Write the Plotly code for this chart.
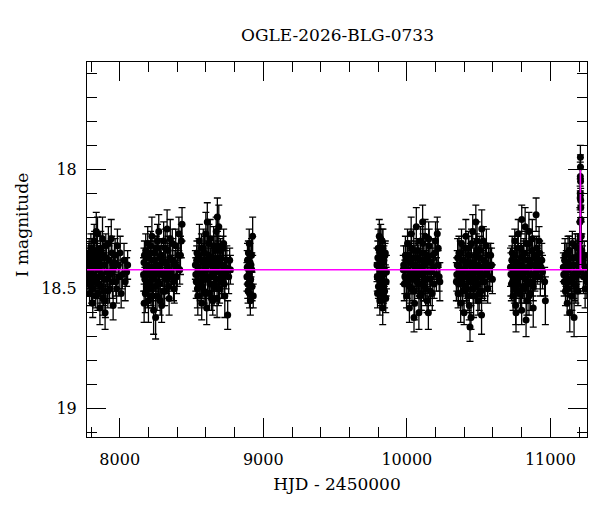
import plotly.graph_objects as go

# ---- photometry (HJD - 2450000, I magnitude, error) ----
hjd = [
    # season 1
    7779, 7785, 7790, 7794, 7799, 7803, 7808, 7812, 7817, 7822, 7828, 7833, 7839, 7845, 7850, 7856, 7862, 7868, 7874,
    7880, 7887, 7893, 7900, 7907, 7914, 7921, 7929, 7937, 7945, 7954, 7963, 7973, 7984, 7996, 8010, 8030, 8048,
    7781, 7787, 7792, 7797, 7801, 7806, 7810, 7815, 7820, 7825, 7830, 7836, 7842, 7847, 7853, 7859, 7865, 7871, 7877,
    7883, 7890, 7896, 7903, 7910, 7917, 7925, 7933, 7941, 7949, 7958, 7968, 7978, 7990, 8003, 8018, 8038, 8055, 7776,
    7836.5, 7898,
    # season 2
    8166, 8172, 8178, 8183, 8189, 8195, 8200, 8206, 8212, 8218, 8224, 8230, 8236, 8242, 8248, 8254, 8260, 8266, 8272,
    8279, 8285, 8292, 8299, 8306, 8313, 8320, 8328, 8336, 8344, 8352, 8361, 8370, 8380, 8390, 8401, 8412, 8423, 8434,
    8169, 8175, 8181, 8186, 8192, 8198, 8203, 8209, 8215, 8221, 8227, 8233, 8239, 8245, 8251, 8257, 8263, 8269, 8276,
    8282, 8289, 8296, 8303, 8310, 8317, 8324, 8332, 8340, 8348, 8357, 8366, 8375, 8385, 8396, 8407, 8418, 8429, 8170,
    8250, 8330,
    # season 3
    8527, 8533, 8538, 8544, 8549, 8555, 8560, 8566, 8571, 8577, 8582, 8588, 8594, 8600, 8606, 8612, 8618, 8624, 8630,
    8636, 8642, 8648, 8654, 8660, 8666, 8672, 8678, 8684, 8690, 8696, 8702, 8709, 8716, 8724, 8732, 8741, 8752, 8766,
    8530, 8536, 8541, 8547, 8552, 8558, 8563, 8569, 8574, 8580, 8585, 8591, 8597, 8603, 8609, 8615, 8621, 8627, 8633,
    8639, 8645, 8651, 8657, 8663, 8669, 8675, 8681, 8687, 8693, 8699, 8706, 8713, 8720, 8728, 8736, 8746, 8759, 8771,
    8610, 8680,
    # season 4
    8886, 8890, 8894, 8898, 8902, 8906, 8910, 8914, 8918, 8922, 8926, 8930,
    8888, 8892, 8896, 8900, 8904, 8908, 8912, 8920,
    # season 5
    9792, 9796, 9800, 9804, 9808, 9812, 9816, 9820, 9824, 9828, 9832, 9836, 9840, 9845, 9850, 9856,
    9794, 9798, 9802, 9806, 9810, 9814, 9818, 9822, 9826, 9830, 9834, 9838, 9843, 9848, 9853, 9858,
    # season 6
    9975, 9982, 9990, 9998, 10005, 10012, 10018, 10024, 10030, 10036, 10042, 10048, 10054, 10060, 10066, 10072, 10078,
    10084, 10090, 10096, 10102, 10108, 10114, 10120, 10127, 10134, 10141, 10148, 10156, 10164, 10172, 10181, 10190,
    10200, 10212, 10225,
    9978, 9986, 9994, 10002, 10008, 10015, 10021, 10027, 10033, 10039, 10045, 10051, 10057, 10063, 10069, 10075, 10081,
    10087, 10093, 10099, 10105, 10111, 10117, 10124, 10131, 10138, 10145, 10152, 10160, 10168, 10177, 10186, 10195,
    10206, 10218, 10230, 10050, 10110, 10150, 10218.5,
    # season 7
    10345, 10351, 10357, 10363, 10369, 10375, 10381, 10387, 10393, 10399, 10405, 10411, 10417, 10423, 10429, 10435,
    10441, 10447, 10453, 10459, 10465, 10471, 10477, 10483, 10489, 10495, 10501, 10508, 10515, 10522, 10529, 10537,
    10545, 10554, 10563, 10573, 10584, 10596,
    10348, 10354, 10360, 10366, 10372, 10378, 10384, 10390, 10396, 10402, 10408, 10414, 10420, 10426, 10432, 10438,
    10444, 10450, 10456, 10462, 10468, 10474, 10480, 10486, 10492, 10498, 10504, 10511, 10518, 10525, 10533, 10541,
    10549, 10558, 10568, 10578, 10590, 10440, 10480.5, 10520.5,
    # season 8
    10722, 10728, 10734, 10740, 10746, 10752, 10758, 10764, 10770, 10776, 10782, 10788, 10794, 10800, 10806, 10812,
    10818, 10824, 10830, 10836, 10842, 10848, 10854, 10860, 10867, 10874, 10881, 10888, 10896, 10904, 10912, 10921,
    10930, 10940, 10960, 10965,
    10725, 10731, 10737, 10743, 10749, 10755, 10761, 10767, 10773, 10779, 10785, 10791, 10797, 10803, 10809, 10815,
    10821, 10827, 10833, 10839, 10845, 10851, 10857, 10864, 10871, 10878, 10885, 10892, 10900, 10908, 10916, 10925,
    10935, 10945, 10800.5, 10850.5, 10900.5, 10760.5, 10830.5, 10880.5,
    # season 9 (with the event)
    11093, 11099, 11105, 11111, 11117, 11123, 11129, 11135, 11141, 11147, 11153, 11159, 11165, 11171, 11177, 11183,
    11189, 11195, 11200, 11204, 11206, 11207.5, 11208.5, 11209, 11209.5, 11210, 11211, 11212.5, 11215, 11219, 11224,
    11230, 11236, 11242, 11248, 11254,
    11090, 11096, 11102, 11108, 11114, 11120, 11126, 11132, 11138, 11144, 11150, 11156, 11162, 11168, 11174, 11180,
    11186, 11192, 11198, 11202, 11208, 11211.5, 11227, 11245,
]

imag = [
    18.47, 18.38, 18.52, 18.41, 18.33, 18.49, 18.44, 18.56, 18.36, 18.30, 18.45, 18.53, 18.39, 18.27, 18.48, 18.42,
    18.58, 18.34, 18.44, 18.29, 18.51, 18.40, 18.55, 18.37, 18.46, 18.31, 18.50, 18.43, 18.35, 18.57, 18.39, 18.47,
    18.32, 18.45, 18.52, 18.38, 18.43,
    18.43, 18.35, 18.48, 18.39, 18.45, 18.37, 18.50, 18.41, 18.46, 18.34, 18.40, 18.47, 18.36, 18.52, 18.38, 18.45,
    18.33, 18.49, 18.40, 18.54, 18.36, 18.46, 18.32, 18.43, 18.51, 18.38, 18.44, 18.29, 18.47, 18.41, 18.36, 18.50,
    18.40, 18.35, 18.44, 18.47, 18.40, 18.42, 18.26, 18.60,
    18.44, 18.36, 18.52, 18.40, 18.47, 18.31, 18.55, 18.42, 18.35, 18.50, 18.28, 18.46, 18.59, 18.38, 18.44, 18.33,
    18.53, 18.41, 18.26, 18.48, 18.37, 18.57, 18.43, 18.30, 18.51, 18.39, 18.46, 18.34, 18.54, 18.29, 18.45, 18.38,
    18.50, 18.32, 18.41, 18.27, 18.36, 18.23,
    18.39, 18.46, 18.34, 18.43, 18.50, 18.37, 18.44, 18.48, 18.32, 18.41, 18.53, 18.38, 18.45, 18.35, 18.49, 18.42,
    18.30, 18.47, 18.40, 18.55, 18.36, 18.44, 18.51, 18.39, 18.33, 18.46, 18.41, 18.49, 18.37, 18.43, 18.31, 18.47,
    18.40, 18.45, 18.36, 18.42, 18.30, 18.56, 18.62, 18.25,
    18.40, 18.47, 18.35, 18.53, 18.43, 18.30, 18.49, 18.38, 18.56, 18.44, 18.33, 18.51, 18.41, 18.27, 18.58, 18.46,
    18.36, 18.52, 18.29, 18.45, 18.39, 18.55, 18.32, 18.48, 18.42, 18.26, 18.54, 18.37, 18.24, 18.50, 18.34, 18.47,
    18.40, 18.31, 18.53, 18.43, 18.61, 18.38,
    18.44, 18.38, 18.50, 18.41, 18.36, 18.47, 18.43, 18.33, 18.49, 18.39, 18.46, 18.35, 18.52, 18.42, 18.38, 18.45,
    18.31, 18.48, 18.40, 18.54, 18.37, 18.44, 18.49, 18.34, 18.41, 18.46, 18.32, 18.50, 18.39, 18.43, 18.37, 18.45,
    18.33, 18.48, 18.41, 18.38, 18.45, 18.42, 18.22, 18.20,
    18.45, 18.38, 18.51, 18.42, 18.31, 18.47, 18.55, 18.40, 18.36, 18.49, 18.28, 18.53,
    18.41, 18.48, 18.35, 18.44, 18.52, 18.39, 18.46, 18.42,
    18.40, 18.52, 18.33, 18.46, 18.28, 18.55, 18.42, 18.36, 18.49, 18.30, 18.58, 18.44, 18.38, 18.51, 18.35, 18.47,
    18.45, 18.37, 18.49, 18.41, 18.34, 18.47, 18.29, 18.52, 18.39, 18.44, 18.33, 18.50, 18.42, 18.36, 18.54, 18.43,
    18.42, 18.48, 18.36, 18.53, 18.31, 18.45, 18.58, 18.39, 18.27, 18.50, 18.43, 18.34, 18.56, 18.40, 18.24, 18.47,
    18.37, 18.60, 18.44, 18.30, 18.52, 18.41, 18.35, 18.49, 18.28, 18.46, 18.55, 18.38, 18.32, 18.51, 18.43, 18.36,
    18.48, 18.30, 18.27, 18.45,
    18.40, 18.45, 18.38, 18.47, 18.42, 18.36, 18.49, 18.44, 18.33, 18.46, 18.40, 18.51, 18.37, 18.45, 18.42, 18.34,
    18.48, 18.41, 18.53, 18.38, 18.44, 18.31, 18.47, 18.40, 18.50, 18.36, 18.43, 18.29, 18.46, 18.39, 18.52, 18.41,
    18.35, 18.44, 18.40, 18.47, 18.62, 18.22, 18.60, 18.33,
    18.47, 18.40, 18.52, 18.35, 18.44, 18.56, 18.31, 18.48, 18.38, 18.60, 18.42, 18.28, 18.50, 18.45, 18.33, 18.57,
    18.39, 18.62, 18.46, 18.26, 18.53, 18.41, 18.36, 18.49, 18.30, 18.55, 18.43, 18.34, 18.51, 18.25, 18.47, 18.38,
    18.44, 18.32, 18.50, 18.41, 18.36, 18.46,
    18.44, 18.37, 18.48, 18.41, 18.35, 18.46, 18.42, 18.51, 18.38, 18.45, 18.33, 18.49, 18.40, 18.53, 18.36, 18.43,
    18.47, 18.31, 18.44, 18.50, 18.39, 18.46, 18.42, 18.34, 18.48, 18.40, 18.52, 18.37, 18.45, 18.41, 18.30, 18.47,
    18.39, 18.43, 18.36, 18.45, 18.40, 18.66, 18.22, 18.61,
    18.41, 18.48, 18.35, 18.53, 18.44, 18.30, 18.57, 18.39, 18.46, 18.27, 18.51, 18.42, 18.33, 18.59, 18.45, 18.37,
    18.50, 18.24, 18.43, 18.55, 18.38, 18.47, 18.31, 18.52, 18.40, 18.29, 18.49, 18.36, 18.44, 18.33, 18.40, 18.30,
    18.45, 18.38, 18.47, 18.55,
    18.44, 18.38, 18.47, 18.41, 18.50, 18.36, 18.43, 18.48, 18.33, 18.45, 18.40, 18.52, 18.37, 18.44, 18.49, 18.35,
    18.42, 18.46, 18.31, 18.48, 18.41, 18.53, 18.38, 18.44, 18.34, 18.47, 18.40, 18.45, 18.37, 18.42, 18.39, 18.35,
    18.41, 18.43, 18.21, 18.26, 18.19, 18.60, 18.63, 18.58,
    18.44, 18.38, 18.51, 18.42, 18.56, 18.35, 18.47, 18.60, 18.40, 18.53, 18.31, 18.45, 18.62, 18.37, 18.49, 18.43,
    18.33, 18.40, 18.36, 18.30, 18.22, 18.12, 18.03, 17.95, 17.99, 18.05, 18.13, 18.21, 18.28, 18.34, 18.38,
    18.45, 18.36, 18.50, 18.41, 18.47,
    18.41, 18.47, 18.36, 18.44, 18.39, 18.50, 18.42, 18.34, 18.46, 18.40, 18.53, 18.37, 18.44, 18.48, 18.32, 18.45,
    18.40, 18.51, 18.43, 18.38, 18.10, 18.16, 18.40, 18.44,
]

ierr = [
    0.06, 0.07, 0.05, 0.08, 0.06, 0.07, 0.05, 0.06, 0.09, 0.07, 0.06, 0.05, 0.08, 0.07, 0.06, 0.05, 0.07, 0.08, 0.06,
    0.09, 0.06, 0.05, 0.07, 0.06, 0.08, 0.07, 0.06, 0.05, 0.07, 0.06, 0.08, 0.06, 0.07, 0.05, 0.06, 0.07, 0.06,
    0.07, 0.06, 0.05, 0.07, 0.08, 0.06, 0.05, 0.07, 0.06, 0.08, 0.07, 0.05, 0.06, 0.07, 0.06, 0.08, 0.05, 0.07, 0.06,
    0.07, 0.06, 0.08, 0.05, 0.06, 0.07, 0.06, 0.05, 0.08, 0.07, 0.06, 0.07, 0.06, 0.05, 0.07, 0.06, 0.08, 0.06, 0.07,
    0.08, 0.07,
    0.07, 0.06, 0.08, 0.05, 0.06, 0.07, 0.09, 0.06, 0.05, 0.07, 0.08, 0.06, 0.10, 0.06, 0.07, 0.05, 0.06, 0.08, 0.07,
    0.06, 0.05, 0.07, 0.06, 0.08, 0.06, 0.07, 0.05, 0.06, 0.07, 0.08, 0.06, 0.09, 0.06, 0.07, 0.08, 0.07, 0.08, 0.07,
    0.06, 0.05, 0.07, 0.06, 0.08, 0.06, 0.05, 0.07, 0.06, 0.07, 0.05, 0.08, 0.06, 0.07, 0.06, 0.05, 0.07, 0.06, 0.08,
    0.06, 0.07, 0.05, 0.06, 0.07, 0.08, 0.06, 0.07, 0.05, 0.06, 0.07, 0.06, 0.08, 0.06, 0.07, 0.05, 0.06, 0.07, 0.08,
    0.09, 0.08,
    0.06, 0.07, 0.05, 0.08, 0.06, 0.07, 0.06, 0.05, 0.07, 0.06, 0.08, 0.05, 0.06, 0.09, 0.07, 0.06, 0.05, 0.07, 0.08,
    0.06, 0.07, 0.06, 0.08, 0.05, 0.07, 0.06, 0.08, 0.07, 0.09, 0.06, 0.05, 0.07, 0.08, 0.06, 0.09, 0.07, 0.06, 0.05,
    0.07, 0.06, 0.08, 0.05, 0.07, 0.06, 0.07, 0.06, 0.05, 0.08, 0.06, 0.07, 0.06, 0.05, 0.07, 0.06, 0.08, 0.06, 0.07,
    0.05, 0.06, 0.07, 0.08, 0.06, 0.07, 0.05, 0.06, 0.07, 0.06, 0.08, 0.06, 0.07, 0.05, 0.06, 0.07, 0.06, 0.07, 0.06,
    0.08, 0.08,
    0.06, 0.07, 0.05, 0.08, 0.06, 0.07, 0.06, 0.05, 0.07, 0.06, 0.08, 0.05,
    0.07, 0.06, 0.05, 0.07, 0.06, 0.08, 0.06, 0.07,
    0.07, 0.06, 0.08, 0.05, 0.07, 0.06, 0.08, 0.07, 0.06, 0.05, 0.07, 0.08, 0.06, 0.07, 0.05, 0.06,
    0.06, 0.07, 0.05, 0.08, 0.06, 0.07, 0.06, 0.05, 0.07, 0.06, 0.08, 0.06, 0.07, 0.05, 0.06, 0.07,
    0.06, 0.07, 0.08, 0.05, 0.06, 0.07, 0.06, 0.08, 0.07, 0.05, 0.06, 0.09, 0.07, 0.06, 0.08, 0.05, 0.06, 0.07, 0.09,
    0.06, 0.07, 0.05, 0.08, 0.06, 0.07, 0.06, 0.05, 0.08, 0.07, 0.06, 0.05, 0.07, 0.06, 0.08, 0.07, 0.06, 0.08, 0.07,
    0.06, 0.07, 0.05, 0.06, 0.07, 0.08, 0.06, 0.05, 0.07, 0.06, 0.07, 0.06, 0.08, 0.05, 0.06, 0.07, 0.06, 0.05, 0.07,
    0.06, 0.08, 0.06, 0.07, 0.05, 0.06, 0.07, 0.08, 0.06, 0.07, 0.05, 0.06, 0.07, 0.06, 0.08, 0.06, 0.07, 0.07, 0.08,
    0.08, 0.06,
    0.06, 0.07, 0.05, 0.08, 0.06, 0.07, 0.06, 0.05, 0.08, 0.07, 0.06, 0.09, 0.07, 0.06, 0.08, 0.05, 0.06, 0.07, 0.09,
    0.06, 0.07, 0.05, 0.08, 0.06, 0.07, 0.06, 0.05, 0.08, 0.07, 0.06, 0.09, 0.07, 0.06, 0.08, 0.05, 0.06, 0.07, 0.08,
    0.07, 0.06, 0.05, 0.07, 0.06, 0.08, 0.06, 0.07, 0.05, 0.06, 0.07, 0.06, 0.08, 0.05, 0.07, 0.06, 0.07, 0.06, 0.08,
    0.06, 0.05, 0.07, 0.06, 0.08, 0.07, 0.06, 0.05, 0.07, 0.06, 0.08, 0.06, 0.07, 0.05, 0.06, 0.07, 0.06, 0.07, 0.08,
    0.08, 0.07,
    0.07, 0.06, 0.07, 0.05, 0.08, 0.06, 0.07, 0.06, 0.05, 0.08, 0.07, 0.06, 0.09, 0.07, 0.06, 0.08, 0.05, 0.06, 0.07,
    0.09, 0.06, 0.07, 0.05, 0.08, 0.06, 0.07, 0.06, 0.05, 0.07, 0.06, 0.08, 0.07, 0.06, 0.10, 0.09,
    0.06, 0.07, 0.05, 0.06, 0.07, 0.08, 0.06, 0.05, 0.07, 0.06, 0.07, 0.06, 0.08, 0.05, 0.06, 0.07, 0.06, 0.05, 0.07,
    0.06, 0.08, 0.06, 0.07, 0.05, 0.06, 0.07, 0.06, 0.08, 0.06, 0.07, 0.05, 0.06, 0.07, 0.06, 0.08, 0.07, 0.08, 0.07,
    0.08, 0.07,
    0.07, 0.06, 0.08, 0.05, 0.07, 0.06, 0.08, 0.07, 0.06, 0.05, 0.07, 0.08, 0.06, 0.07, 0.05, 0.06, 0.07, 0.06, 0.08,
    0.06, 0.05, 0.06, 0.05, 0.05, 0.06, 0.05, 0.06, 0.06, 0.07, 0.06, 0.07, 0.06, 0.08, 0.06, 0.07, 0.06,
    0.06, 0.07, 0.05, 0.08, 0.06, 0.07, 0.06, 0.05, 0.07, 0.06, 0.08, 0.06, 0.07, 0.05, 0.06, 0.07, 0.06, 0.08, 0.07,
    0.06, 0.06, 0.05, 0.07, 0.06,
]

# ---- microlensing model curve (HJD, I magnitude) ----
model_hjd = [7772, 11207, 11208, 11208.6, 11209, 11209.4, 11210, 11211, 11255]
model_mag = [18.42, 18.42, 18.39, 18.25, 18.00, 18.25, 18.39, 18.42, 18.42]

title_text = "OGLE-2026-BLG-0733"
x_label = "HJD - 2450000"
y_label = "I magnitude"

FONT = "DejaVu Serif"

fig = go.Figure()
fig.add_trace(go.Scatter(
    x=hjd, y=imag, mode="markers",
    marker=dict(color="black", size=7, line=dict(width=0)),
    error_y=dict(type="data", array=ierr, visible=True, color="black", thickness=1.3, width=3.5),
    hoverinfo="skip", showlegend=False,
))
fig.add_trace(go.Scatter(
    x=model_hjd, y=model_mag, mode="lines",
    line=dict(color="#ff00ff", width=1.5),
    hoverinfo="skip", showlegend=False,
))

axis_common = dict(
    showgrid=False, zeroline=False, showline=True, linecolor="black", linewidth=1,
    mirror="allticks", ticks="inside", ticklen=19, tickwidth=1, tickcolor="black",
    tickfont=dict(family=FONT, size=16, color="black"),
)

fig.update_layout(
    width=600, height=512,
    margin=dict(l=87, r=13, t=62, b=75),
    paper_bgcolor="white", plot_bgcolor="white",
    font=dict(family=FONT, color="black"),
    title=dict(text=title_text, x=0.5625, xanchor="center", y=0.932, yanchor="middle",
               font=dict(family=FONT, size=17, color="black")),
    xaxis=dict(range=[7772, 11255], tickmode="linear", tick0=8000, dtick=1000, tickformat="d",
               ticklabelstandoff=8,
               minor=dict(ticks="inside", ticklen=10, tickcolor="black", dtick=200, tick0=8000, showgrid=False),
               title=dict(text=x_label, font=dict(family=FONT, size=17, color="black"), standoff=9),
               **axis_common),
    yaxis=dict(range=[19.12, 17.551], tickmode="linear", tick0=18, dtick=0.5,
               ticklabelstandoff=6,
               minor=dict(ticks="inside", ticklen=10, tickcolor="black", dtick=0.1, tick0=18, showgrid=False),
               title=dict(text=""),
               **axis_common),
    annotations=[dict(text=y_label, textangle=-90, xref="paper", yref="paper",
                      x=-0.13, y=0.565, xanchor="center", yanchor="middle", showarrow=False,
                      font=dict(family=FONT, size=17, color="black"))],
)

fig.write_html("out.html", config={"displayModeBar": False},
               post_script="document.body.style.margin='0';document.body.style.padding='0';")
